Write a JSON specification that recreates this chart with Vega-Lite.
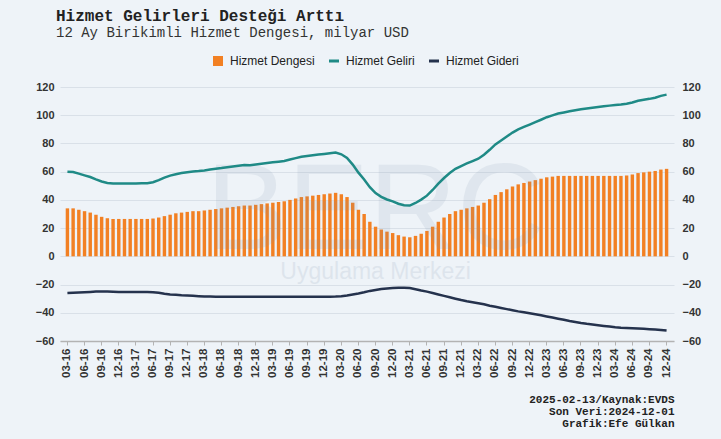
{
  "$schema": "https://vega.github.io/schema/vega-lite/v6.json",
  "width": 614,
  "height": 254,
  "autosize": {"type": "none"},
  "padding": {"left": 60, "top": 87, "right": 47, "bottom": 98},
  "background": "#eef3f8",
  "title": {
    "text": "Hizmet Gelirleri Desteği Arttı",
    "subtitle": "12 Ay Birikimli Hizmet Dengesi, milyar USD",
    "anchor": "start",
    "frame": "group",
    "font": "Liberation Mono",
    "fontWeight": "bold",
    "fontSize": 16,
    "color": "#222222",
    "subtitleFont": "Liberation Mono",
    "subtitleFontSize": 14,
    "subtitleColor": "#333333",
    "subtitlePadding": 2,
    "offset": 15,
    "dx": -4
  },
  "data": {
    "values": [
      {"d": "03-16", "denge": 34, "gelir": 60.0, "gider": -26.0},
      {"d": "04-16", "denge": 34, "gelir": 59.8, "gider": -25.8},
      {"d": "05-16", "denge": 33, "gelir": 58.6, "gider": -25.6},
      {"d": "06-16", "denge": 32, "gelir": 57.4, "gider": -25.4},
      {"d": "07-16", "denge": 31, "gelir": 56.2, "gider": -25.2},
      {"d": "08-16", "denge": 29.5, "gelir": 54.5, "gider": -25.0},
      {"d": "09-16", "denge": 28, "gelir": 53.0, "gider": -25.0},
      {"d": "10-16", "denge": 27, "gelir": 52.0, "gider": -25.0},
      {"d": "11-16", "denge": 26.5, "gelir": 51.6, "gider": -25.1},
      {"d": "12-16", "denge": 26.5, "gelir": 51.7, "gider": -25.2},
      {"d": "01-17", "denge": 26.5, "gelir": 51.7, "gider": -25.2},
      {"d": "02-17", "denge": 26.5, "gelir": 51.7, "gider": -25.2},
      {"d": "03-17", "denge": 26.5, "gelir": 51.7, "gider": -25.2},
      {"d": "04-17", "denge": 26.5, "gelir": 51.8, "gider": -25.3},
      {"d": "05-17", "denge": 26.5, "gelir": 51.8, "gider": -25.3},
      {"d": "06-17", "denge": 26.8, "gelir": 52.5, "gider": -25.4},
      {"d": "07-17", "denge": 27.5, "gelir": 54.0, "gider": -25.8},
      {"d": "08-17", "denge": 28.5, "gelir": 55.8, "gider": -26.5},
      {"d": "09-17", "denge": 29.5, "gelir": 57.2, "gider": -27.0},
      {"d": "10-17", "denge": 30.5, "gelir": 58.2, "gider": -27.3},
      {"d": "11-17", "denge": 31, "gelir": 59.0, "gider": -27.6},
      {"d": "12-17", "denge": 31.5, "gelir": 59.6, "gider": -27.8},
      {"d": "01-18", "denge": 32, "gelir": 60.1, "gider": -28.0},
      {"d": "02-18", "denge": 32, "gelir": 60.4, "gider": -28.2},
      {"d": "03-18", "denge": 32.5, "gelir": 60.9, "gider": -28.4},
      {"d": "04-18", "denge": 33, "gelir": 61.5, "gider": -28.5},
      {"d": "05-18", "denge": 33.5, "gelir": 62.1, "gider": -28.6},
      {"d": "06-18", "denge": 34, "gelir": 62.6, "gider": -28.6},
      {"d": "07-18", "denge": 34.5, "gelir": 63.2, "gider": -28.7},
      {"d": "08-18", "denge": 35, "gelir": 63.7, "gider": -28.7},
      {"d": "09-18", "denge": 35.5, "gelir": 64.2, "gider": -28.7},
      {"d": "10-18", "denge": 36, "gelir": 64.7, "gider": -28.7},
      {"d": "11-18", "denge": 36, "gelir": 64.6, "gider": -28.6},
      {"d": "12-18", "denge": 36.5, "gelir": 65.1, "gider": -28.6},
      {"d": "01-19", "denge": 37, "gelir": 65.6, "gider": -28.6},
      {"d": "02-19", "denge": 37.5, "gelir": 66.1, "gider": -28.6},
      {"d": "03-19", "denge": 38, "gelir": 66.6, "gider": -28.6},
      {"d": "04-19", "denge": 38.5, "gelir": 67.1, "gider": -28.6},
      {"d": "05-19", "denge": 39, "gelir": 67.6, "gider": -28.6},
      {"d": "06-19", "denge": 40, "gelir": 68.6, "gider": -28.6},
      {"d": "07-19", "denge": 41, "gelir": 69.6, "gider": -28.6},
      {"d": "08-19", "denge": 42, "gelir": 70.6, "gider": -28.6},
      {"d": "09-19", "denge": 42.5, "gelir": 71.1, "gider": -28.6},
      {"d": "10-19", "denge": 43, "gelir": 71.6, "gider": -28.6},
      {"d": "11-19", "denge": 43.5, "gelir": 72.1, "gider": -28.6},
      {"d": "12-19", "denge": 44, "gelir": 72.6, "gider": -28.6},
      {"d": "01-20", "denge": 44.5, "gelir": 73.1, "gider": -28.6},
      {"d": "02-20", "denge": 45, "gelir": 73.5, "gider": -28.5},
      {"d": "03-20", "denge": 44, "gelir": 72.3, "gider": -28.3},
      {"d": "04-20", "denge": 42, "gelir": 69.8, "gider": -27.8},
      {"d": "05-20", "denge": 38, "gelir": 65.0, "gider": -27.0},
      {"d": "06-20", "denge": 33, "gelir": 59.3, "gider": -26.3},
      {"d": "07-20", "denge": 30, "gelir": 54.5, "gider": -25.5},
      {"d": "08-20", "denge": 24.5, "gelir": 49.0, "gider": -24.5},
      {"d": "09-20", "denge": 21, "gelir": 44.8, "gider": -23.8},
      {"d": "10-20", "denge": 19, "gelir": 42.2, "gider": -23.2},
      {"d": "11-20", "denge": 17.5, "gelir": 40.3, "gider": -22.8},
      {"d": "12-20", "denge": 16.5, "gelir": 39.0, "gider": -22.5},
      {"d": "01-21", "denge": 15, "gelir": 37.3, "gider": -22.3},
      {"d": "02-21", "denge": 14, "gelir": 36.2, "gider": -22.2},
      {"d": "03-21", "denge": 13.5, "gelir": 36.0, "gider": -22.5},
      {"d": "04-21", "denge": 14.5, "gelir": 37.8, "gider": -23.3},
      {"d": "05-21", "denge": 16, "gelir": 40.2, "gider": -24.2},
      {"d": "06-21", "denge": 18, "gelir": 43.0, "gider": -25.0},
      {"d": "07-21", "denge": 21, "gelir": 47.0, "gider": -26.0},
      {"d": "08-21", "denge": 24.5, "gelir": 51.5, "gider": -27.0},
      {"d": "09-21", "denge": 27.5, "gelir": 55.5, "gider": -28.0},
      {"d": "10-21", "denge": 30, "gelir": 59.0, "gider": -29.0},
      {"d": "11-21", "denge": 32, "gelir": 62.0, "gider": -30.0},
      {"d": "12-21", "denge": 33, "gelir": 64.0, "gider": -31.0},
      {"d": "01-22", "denge": 34, "gelir": 65.8, "gider": -31.8},
      {"d": "02-22", "denge": 35, "gelir": 67.5, "gider": -32.5},
      {"d": "03-22", "denge": 36, "gelir": 69.2, "gider": -33.2},
      {"d": "04-22", "denge": 38, "gelir": 72.0, "gider": -34.0},
      {"d": "05-22", "denge": 40.5, "gelir": 75.5, "gider": -35.0},
      {"d": "06-22", "denge": 43.5, "gelir": 79.3, "gider": -35.8},
      {"d": "07-22", "denge": 45.5, "gelir": 82.1, "gider": -36.6},
      {"d": "08-22", "denge": 47.5, "gelir": 84.9, "gider": -37.4},
      {"d": "09-22", "denge": 49.5, "gelir": 87.7, "gider": -38.2},
      {"d": "10-22", "denge": 51, "gelir": 90.0, "gider": -39.0},
      {"d": "11-22", "denge": 52, "gelir": 91.7, "gider": -39.7},
      {"d": "12-22", "denge": 53, "gelir": 93.4, "gider": -40.4},
      {"d": "01-23", "denge": 54, "gelir": 95.1, "gider": -41.1},
      {"d": "02-23", "denge": 55, "gelir": 96.8, "gider": -41.8},
      {"d": "03-23", "denge": 56, "gelir": 98.6, "gider": -42.6},
      {"d": "04-23", "denge": 56.5, "gelir": 99.9, "gider": -43.4},
      {"d": "05-23", "denge": 57, "gelir": 101.2, "gider": -44.2},
      {"d": "06-23", "denge": 57, "gelir": 102.0, "gider": -45.0},
      {"d": "07-23", "denge": 57, "gelir": 102.8, "gider": -45.8},
      {"d": "08-23", "denge": 57, "gelir": 103.5, "gider": -46.5},
      {"d": "09-23", "denge": 57, "gelir": 104.2, "gider": -47.2},
      {"d": "10-23", "denge": 57, "gelir": 104.8, "gider": -47.8},
      {"d": "11-23", "denge": 57, "gelir": 105.3, "gider": -48.3},
      {"d": "12-23", "denge": 57, "gelir": 105.8, "gider": -48.8},
      {"d": "01-24", "denge": 57, "gelir": 106.3, "gider": -49.3},
      {"d": "02-24", "denge": 57, "gelir": 106.8, "gider": -49.8},
      {"d": "03-24", "denge": 57, "gelir": 107.3, "gider": -50.3},
      {"d": "04-24", "denge": 57, "gelir": 107.6, "gider": -50.6},
      {"d": "05-24", "denge": 57.3, "gelir": 108.1, "gider": -50.8},
      {"d": "06-24", "denge": 58, "gelir": 109.0, "gider": -51.0},
      {"d": "07-24", "denge": 59, "gelir": 110.2, "gider": -51.2},
      {"d": "08-24", "denge": 59.5, "gelir": 110.9, "gider": -51.4},
      {"d": "09-24", "denge": 60, "gelir": 111.6, "gider": -51.6},
      {"d": "10-24", "denge": 60.5, "gelir": 112.4, "gider": -51.9},
      {"d": "11-24", "denge": 61.5, "gelir": 113.7, "gider": -52.2},
      {"d": "12-24", "denge": 62, "gelir": 114.6, "gider": -52.6}
    ]
  },
  "encoding": {
    "x": {
      "field": "d",
      "type": "ordinal",
      "sort": null,
      "scale": {"paddingInner": 0.4, "paddingOuter": 4.4},
      "axis": {
        "values": ["03-16","06-16","09-16","12-16","03-17","06-17","09-17","12-17","03-18","06-18","09-18","12-18","03-19","06-19","09-19","12-19","03-20","06-20","09-20","12-20","03-21","06-21","09-21","12-21","03-22","06-22","09-22","12-22","03-23","06-23","09-23","12-23","03-24","06-24","09-24","12-24"],
        "labelAngle": -90,
        "labelFont": "Liberation Sans",
        "labelFontWeight": "bold",
        "labelFontSize": 11.5,
        "labelColor": "#333333",
        "labelPadding": 3,
        "domainColor": "#b3b3b3",
        "domainWidth": 1.5,
        "tickColor": "#b3b3b3",
        "tickSize": 4,
        "grid": false,
        "title": ["2025-02-13/Kaynak:EVDS", "Son Veri:2024-12-01", "Grafik:Efe Gülkan"],
        "titleFont": "Liberation Mono",
        "titleFontWeight": "bold",
        "titleFontSize": 11,
        "titleColor": "#222222",
        "titleAnchor": "end",
        "titleAlign": "right",
        "titleLineHeight": 12,
        "titlePadding": 16
      }
    }
  },
  "layer": [
    {
      "mark": {"type": "bar"},
      "encoding": {
        "y": {
          "field": "denge",
          "type": "quantitative",
          "scale": {"domain": [-60, 120], "nice": false, "zero": false},
          "axis": {
            "orient": "left",
            "values": [-60, -40, -20, 0, 20, 40, 60, 80, 100, 120],
            "grid": true,
            "gridColor": "#d9e0e8",
            "gridWidth": 1,
            "domain": false,
            "ticks": false,
            "labelFont": "Liberation Sans",
            "labelFontWeight": "bold",
            "labelFontSize": 11,
            "labelColor": "#333333",
            "labelPadding": 6,
            "title": null
          }
        },
        "color": {
          "datum": "Hizmet Dengesi",
          "type": "nominal",
          "scale": {
            "domain": ["Hizmet Dengesi", "Hizmet Geliri", "Hizmet Gideri"],
            "range": ["#f28023", "#1f8a86", "#25324d"]
          },
          "legend": {
            "title": null,
            "orient": "none",
            "direction": "horizontal",
            "legendX": 152,
            "legendY": -32,
            "labelFont": "Liberation Sans",
            "labelFontSize": 12,
            "labelColor": "#222222",
            "labelOffset": 6,
            "columnPadding": 8,
            "symbolSize": 100,
            "encode": {
              "symbols": {
                "update": {
                  "shape": {"signal": "datum.value === 'Hizmet Dengesi' ? 'square' : 'stroke'"},
                  "fill": {"scale": "color", "field": "value"},
                  "stroke": {"scale": "color", "field": "value"},
                  "strokeWidth": {"signal": "datum.value === 'Hizmet Dengesi' ? 0 : 3"},
                  "opacity": {"value": 1},
                  "fillOpacity": {"value": 1}
                }
              }
            }
          }
        }
      }
    },
    {
      "data": {"values": [{"t": "BERC"}]},
      "mark": {"type": "text", "font": "Liberation Sans", "fontSize": 122, "color": "#7f95ad", "opacity": 0.13, "align": "center", "baseline": "alphabetic"},
      "encoding": {
        "x": {"datum": "09-20"},
        "y": {"datum": 5, "type": "quantitative", "scale": {"domain": [-60, 120], "nice": false, "zero": false}, "axis": null},
        "text": {"field": "t"}
      }
    },
    {
      "data": {"values": [{"t": "Uygulama Merkezi"}]},
      "mark": {"type": "text", "font": "Liberation Sans", "fontSize": 23, "color": "#7f95ad", "opacity": 0.15, "align": "center", "baseline": "middle"},
      "encoding": {
        "x": {"datum": "09-20"},
        "y": {"datum": -11, "type": "quantitative", "scale": {"domain": [-60, 120], "nice": false, "zero": false}, "axis": null},
        "text": {"field": "t"}
      }
    },
    {
      "mark": {"type": "line", "strokeWidth": 2.5},
      "encoding": {
        "y": {
          "field": "gelir",
          "type": "quantitative",
          "scale": {"domain": [-60, 120], "nice": false, "zero": false},
          "axis": null
        },
        "color": {"datum": "Hizmet Geliri", "type": "nominal"}
      }
    },
    {
      "mark": {"type": "line", "strokeWidth": 2.5},
      "encoding": {
        "y": {
          "field": "gider",
          "type": "quantitative",
          "scale": {"domain": [-60, 120], "nice": false, "zero": false},
          "axis": {
            "orient": "right",
            "values": [-60, -40, -20, 0, 20, 40, 60, 80, 100, 120],
            "grid": false,
            "domain": false,
            "ticks": false,
            "labelFont": "Liberation Sans",
            "labelFontWeight": "bold",
            "labelFontSize": 11,
            "labelColor": "#333333",
            "labelPadding": 8,
            "title": null
          }
        },
        "color": {"datum": "Hizmet Gideri", "type": "nominal"}
      }
    }
  ],
  "resolve": {"scale": {"y": "independent"}},
  "config": {
    "view": {"stroke": null},
    "font": "Liberation Sans"
  }
}
